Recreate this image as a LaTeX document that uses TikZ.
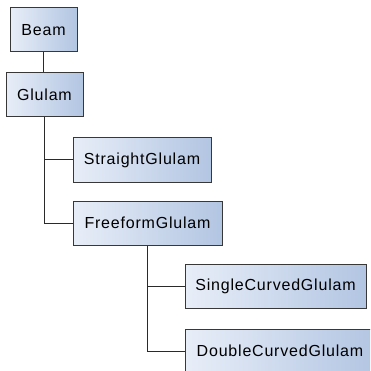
\documentclass[tikz,border=0pt]{standalone}
\usepackage{fontspec}
\setmainfont{Liberation Sans}[LetterSpace=5]
\begin{document}
\begin{tikzpicture}[x=1pt,y=-1pt,
  cls/.style={draw=boxline, line width=1pt, left color=boxleft, right color=boxright,
    inner sep=0pt, minimum height=44pt, font=\fontsize{16}{19}\selectfont, text=black},
  link/.style={draw=linkcol, line width=1pt}]
  \definecolor{boxleft}{HTML}{E8EEF8}
  \definecolor{boxright}{HTML}{B2C5E2}
  \definecolor{boxline}{HTML}{383838}
  \definecolor{linkcol}{HTML}{2A2A2A}
  \useasboundingbox (0,0) rectangle (370,371);
  \fill[white] (0,0) rectangle (370,371);
  \clip (0,0) rectangle (370,371);

  % class boxes
  \node[cls, minimum width=67pt]  (beam)     at (43.5,30)  {Beam};
  \node[cls, minimum width=77pt]  (glulam)   at (44.5,95)  {Glulam};
  \node[cls, minimum width=138pt] (straight) at (142,160)  {StraightGlulam};
  \node[cls, minimum width=149pt] (freeform) at (147.5,223) {FreeformGlulam};
  \node[cls, minimum width=181pt] (single)   at (275.5,286) {SingleCurvedGlulam};
  \node[cls, minimum width=190pt] (double)   at (280,351)  {DoubleCurvedGlulam};

  % inheritance tree
  \draw[link] (beam.south) -- (beam.south |- glulam.north);
  \draw[link] (glulam.south) |- (straight.west);
  \draw[link] (glulam.south) |- (freeform.west);
  \draw[link] (freeform.south) |- (single.west);
  \draw[link] (freeform.south) |- (double.west);
\end{tikzpicture}
\end{document}
